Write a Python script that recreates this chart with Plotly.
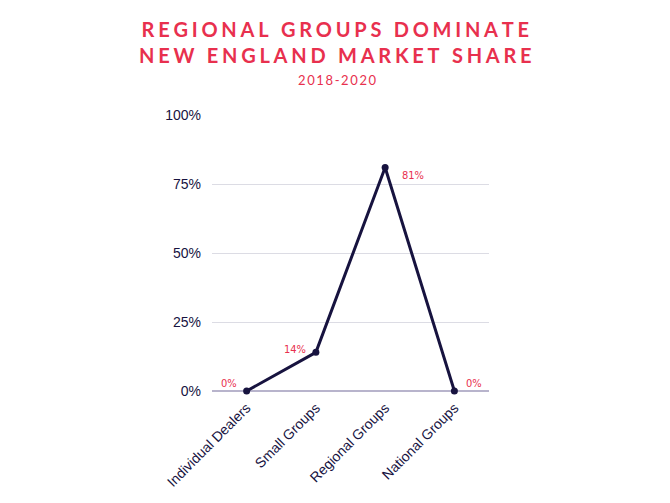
import plotly.graph_objects as go

categories = ["Individual Dealers", "Small Groups", "Regional Groups", "National Groups"]
shares = [0, 14, 81, 0]
labels = ["0%", "14%", "81%", "0%"]
tick_vals = [0, 25, 50, 75, 100]
tick_text = ["0%", "25%", "50%", "75%", "100%"]
title_lines = ["REGIONAL GROUPS DOMINATE", "NEW ENGLAND MARKET SHARE"]
subtitle = "2018-2020"

RED = "#e8304e"
NAVY = "#17133f"
PLOT_LEFT, PLOT_RIGHT = 211, 488
PLOT_TOP, PLOT_H = 114, 276
OFF = 7  # page offset of the figure in the browser
TITLE_CX = 334

# label placement styles (anchor, xshift, yshift) per point
label_style = [("right", -8, 8), ("right", -8, 3), ("left", 15, -8), ("left", 10, 8)]


def spaced(s, sep="\u2009\u200a"):
    return sep.join(s)


def py(y_px):
    return 1 + (PLOT_TOP - y_px) / PLOT_H


def px(x_px):
    return (x_px - PLOT_LEFT) / (PLOT_RIGHT - PLOT_LEFT)


fig = go.Figure()
fig.add_trace(go.Scatter(
    x=categories, y=shares, mode="lines+markers",
    line=dict(color=NAVY, width=3),
    marker=dict(color=NAVY, size=7),
    cliponaxis=False, hoverinfo="skip",
))

for cat, val, lab, (anc, xs, ys) in zip(categories, shares, labels, label_style):
    fig.add_annotation(x=cat, y=val, xref="x", yref="y", text=lab, showarrow=False,
                       xanchor=anc, yanchor="middle", xshift=xs, yshift=ys,
                       font=dict(color=RED, size=11, family="DejaVu Sans Condensed"))

fig.update_layout(
    width=670, height=503,
    margin=dict(l=PLOT_LEFT - OFF, r=670 + OFF - PLOT_RIGHT, t=PLOT_TOP - OFF,
                b=503 + OFF - (PLOT_TOP + PLOT_H)),
    paper_bgcolor="white", plot_bgcolor="white",
    showlegend=False,
    xaxis=dict(range=[-0.5, 3.5], tickangle=-45, showgrid=False, zeroline=False,
               tickfont=dict(family="Liberation Sans, Arial", size=14, color=NAVY),
               showline=False, ticks="", automargin=False, ticklabelstandoff=5),
    yaxis=dict(range=[0, 100], tickvals=tick_vals, ticktext=tick_text, showgrid=True,
               gridcolor="#dcdce4", gridwidth=1, zeroline=True, zerolinecolor="#b8b4cc",
               zerolinewidth=2, tickfont=dict(family="Liberation Sans, Arial", size=14, color=NAVY),
               ticks="", ticklabelstandoff=10, automargin=False),
)

fig.add_annotation(text="<br>".join("<b>" + spaced(l) + "</b>" for l in title_lines),
                   xref="paper", yref="paper",
                   x=px(TITLE_CX), y=py(40.5), yanchor="middle", xanchor="center",
                   showarrow=False,
                   font=dict(family="Lato", size=20, color=RED))
fig.add_annotation(text=spaced(subtitle, "\u2009"), xref="paper", yref="paper",
                   x=px(TITLE_CX + 2), y=py(79), yanchor="middle", xanchor="center",
                   showarrow=False,
                   font=dict(family="Lato", size=13, color=RED))

fig.write_html("out.html")
